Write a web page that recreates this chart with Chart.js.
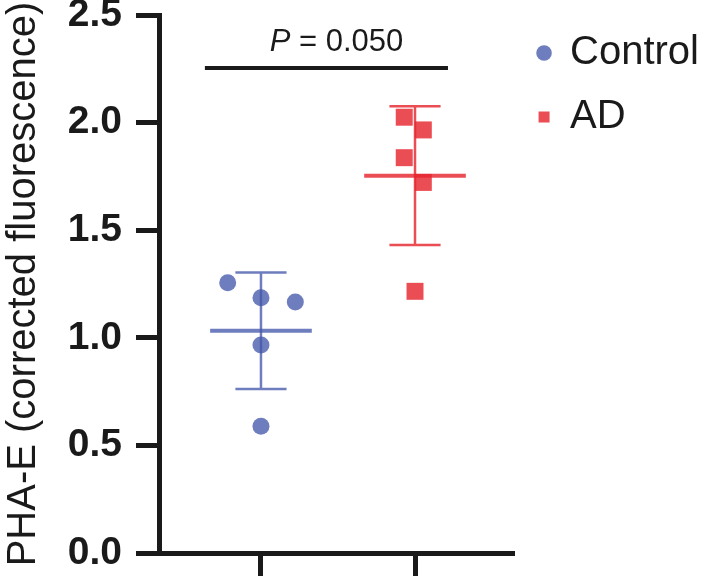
<!DOCTYPE html>
<html>
<head>
<meta charset="utf-8">
<script src="https://cdn.jsdelivr.net/npm/chart.js@4.4.1/dist/chart.umd.min.js"></script>
<style>
  body { margin: 0; background: #fff; }
  #wrap { width: 709px; height: 576px; }
</style>
</head>
<body>
<div id="wrap"><canvas id="mycanvas" width="709" height="576"></canvas></div>
<script>
// groups and values
var groups = ['Control', 'AD'];
var controlValues = [1.256, 1.186, 1.166, 0.967, 0.589];
var adValues = [2.025, 1.966, 1.837, 1.722, 1.216];
// horizontal scatter of the dots around each group centre (in category units)
var controlJitter = [-0.216, 0, 0.223, 0, 0];
var adJitter = [-0.07, 0.054, -0.07, 0.054, 0];
var yTicks = [0, 0.5, 1.0, 1.5, 2.0, 2.5];
var pText = '0.050';

var blue = 'rgba(68, 88, 170, 0.78)';
var red = 'rgba(230, 38, 48, 0.82)';
var ink = '#1a1a1a';
var FONT = "'Liberation Sans', Arial, sans-serif";

function mean(a) {
	var s = 0;
	for (var i in a) s += a[i];
	return s / a.length;
}
function sd(a) {
	var m = mean(a), s = 0;
	for (var i in a) s += (a[i] - m) * (a[i] - m);
	return Math.sqrt(s / (a.length - 1));
}

function points(vals, jit, xc) {
	var out = [];
	for (var i in vals) out.push({x: xc + jit[i], y: vals[i]});
	return out;
}
function meanLine(vals, xc) {
	var m = mean(vals);
	return [{x: xc - 0.33, y: m}, {x: xc + 0.33, y: m}];
}
function sdLines(vals, xc) {
	var m = mean(vals), s = sd(vals);
	return [
		{x: xc, y: m - s}, {x: xc, y: m + s}, {x: xc, y: null},
		{x: xc - 0.166, y: m + s}, {x: xc + 0.166, y: m + s}, {x: xc, y: null},
		{x: xc - 0.166, y: m - s}, {x: xc + 0.166, y: m - s}
	];
}

var sigY = 2.254;
var sigX = [0.636, 2.214];

var chartdata = {
	datasets: [
		{
			type: 'line', label: 'sd1', data: sdLines(controlValues, 1),
			borderColor: blue, borderWidth: 2.5, pointRadius: 0, spanGaps: false, order: 3
		},
		{
			type: 'line', label: 'sd2', data: sdLines(adValues, 2),
			borderColor: red, borderWidth: 2.5, pointRadius: 0, spanGaps: false, order: 3
		},
		{
			type: 'line', label: 'm1', data: meanLine(controlValues, 1),
			borderColor: blue, borderWidth: 4, pointRadius: 0, order: 1
		},
		{
			type: 'line', label: 'm2', data: meanLine(adValues, 2),
			borderColor: red, borderWidth: 4, pointRadius: 0, order: 1
		},
		{
			type: 'line', label: 'sig', data: [{x: sigX[0], y: sigY}, {x: sigX[1], y: sigY}],
			borderColor: ink, borderWidth: 4, pointRadius: 0, order: 1
		},
		{
			type: 'scatter', label: groups[0], data: points(controlValues, controlJitter, 1),
			pointStyle: 'circle', pointRadius: 8.5, pointHoverRadius: 8.5,
			backgroundColor: blue, borderWidth: 0, order: 2
		},
		{
			type: 'scatter', label: groups[1], data: points(adValues, adJitter, 2),
			pointStyle: 'rect', pointRadius: 12, pointHoverRadius: 12,
			backgroundColor: red, borderWidth: 0, order: 2
		}
	]
};

var pLabel = {
	id: 'pLabel',
	afterDatasetsDraw: function(chart) {
		var ctx = chart.ctx;
		var xs = chart.scales.x, ys = chart.scales.y;
		var cx = (xs.getPixelForValue(sigX[0]) + xs.getPixelForValue(sigX[1])) / 2 + 10;
		var by = ys.getPixelForValue(sigY) - 17;
		ctx.save();
		ctx.fillStyle = ink;
		ctx.textBaseline = 'alphabetic';
		ctx.font = 'italic 31px ' + FONT;
		var w1 = ctx.measureText('P').width;
		ctx.font = '31px ' + FONT;
		var rest = ' = ' + pText;
		var w2 = ctx.measureText(rest).width;
		var x0 = cx - (w1 + w2) / 2;
		ctx.font = 'italic 31px ' + FONT;
		ctx.fillText('P', x0, by);
		ctx.font = '31px ' + FONT;
		ctx.fillText(rest, x0 + w1, by);
		ctx.restore();
	}
};

var ctx = document.getElementById('mycanvas');
var chart = new Chart(ctx, {
	data: chartdata,
	plugins: [pLabel],
	options: {
		responsive: false,
		animation: false,
		devicePixelRatio: 1,
		layout: { padding: { top: 9, left: 0, right: 0, bottom: 0 } },
		plugins: {
			tooltip: { enabled: false },
			legend: {
				position: 'right',
				align: 'start',
				maxWidth: 200,
				labels: {
					usePointStyle: true,
					boxWidth: 12,
					boxHeight: 11,
					padding: 24,
					color: ink,
					font: { size: 40, family: FONT },
					filter: function(item) { return groups.indexOf(item.text) >= 0; }
				}
			}
		},
		scales: {
			x: {
				type: 'linear',
				min: 0.338,
				max: 2.643,
				afterBuildTicks: function(scale) {
					scale.ticks = [{value: 1}, {value: 2}];
				},
				afterFit: function(scale) { scale.height = 23; },
				ticks: { display: false },
				grid: { drawOnChartArea: false, tickLength: 23, tickWidth: 5, tickColor: ink },
				border: { color: ink, width: 5 }
			},
			y: {
				min: 0,
				max: 2.5,
				afterBuildTicks: function(scale) {
					scale.ticks = yTicks.map(function(v) { return {value: v}; });
				},
				afterFit: function(scale) {
					scale.width = 159;
					scale.paddingTop = 15;
					scale.paddingBottom = 0;
				},
				ticks: {
					padding: 14,
					color: ink,
					font: { size: 39, weight: 'bold', family: FONT, lineHeight: 0.05 },
					callback: function(v) { return Number(v).toFixed(1); }
				},
				grid: { drawOnChartArea: false, tickLength: 23, tickWidth: 5, tickColor: ink },
				border: { color: ink, width: 5 },
				title: {
					display: true,
					text: 'PHA-E (corrected fluorescence)',
					color: ink,
					font: { size: 40, family: FONT, lineHeight: 1.2 },
					padding: { top: 0, bottom: 0 }
				}
			}
		}
	}
});
</script>
</body>
</html>
